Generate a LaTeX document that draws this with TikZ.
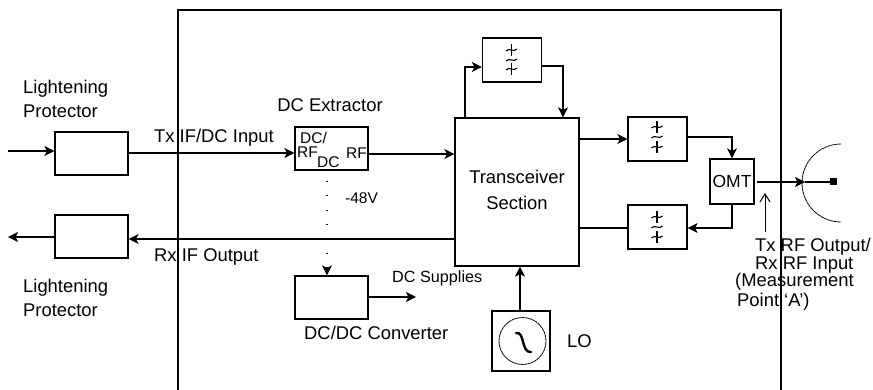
\documentclass[tikz,border=0pt]{standalone}
\usepackage{fontspec}
\setmainfont{Liberation Sans}
\usetikzlibrary{arrows.meta}

\tikzset{
  filtersign/.pic={
    \draw[line width=1.1pt] (-5.5,1) .. controls (-2,-3) and (2,3) .. (5.5,-1);
  },
  filterslash/.pic={
    \draw[line width=1.1pt] (-5.5,1) .. controls (-2,-3) and (2,3) .. (5.5,-1);
    \draw[line width=1.1pt] (0,-6) -- (0,6);
  }
}

\begin{document}
\begin{tikzpicture}[x=1pt,y=-1pt,
      font=\fontsize{18.4}{20}\selectfont,
      block/.style={draw,line width=1.2pt,rectangle,inner sep=0pt,minimum width=73pt,minimum height=43pt},
      filterbox/.style={block,minimum width=59pt,minimum height=44pt},
      wire/.style={line width=1.2pt},
      feed/.style={line width=1.2pt,-{Stealth[length=10pt,width=10pt,inset=2.5pt]}},
      small/.style={font=\fontsize{15.5}{18}\selectfont,inner sep=0pt},
      tag/.style={inner sep=0pt,anchor=west}]
      \useasboundingbox (0,0) rectangle (873,390);

      % outer frame, open at the bottom
      \draw[line width=1.2pt] (178,390) -- (178,10) -- (781,10) -- (781,390);

      % blocks
      \node[block] (prot-tx) at (91.5,153.5) {};
      \node[block] (prot-rx) at (91.5,236.5) {};
      \node[block] (extract) at (331.5,148.5) {};
      \node[block] (dcdc) at (331.5,297.5) {};
      \node[block,minimum width=124pt,minimum height=148pt] (trx) at (517,192) {};
      \node[filterbox] (filt-top) at (512,60) {};
      \node[filterbox] (filt-tx) at (657.5,139) {};
      \node[filterbox] (filt-rx) at (657.5,227) {};
      \node[block,minimum width=44pt,minimum height=45pt,font=\fontsize{17.5}{20}\selectfont] (omt) at (732,181.5) {OMT};
      \node[block,minimum width=58pt,minimum height=60pt] (lo) at (521,341) {};
      \node[draw,dash pattern=on 3pt off 0.5pt,line width=0.8pt,circle,inner sep=0pt,minimum size=47pt] (lo-osc) at (522.5,341) {};

      % filter marks
      \pic at (511.5,50) {filterslash};
      \pic at (511.5,60) {filtersign};
      \pic at (511.5,69) {filterslash};
      \pic at (657,127) {filterslash};
      \pic at (657,137) {filtersign};
      \pic at (657,147) {filterslash};
      \pic at (657,217) {filterslash};
      \pic at (657,227) {filtersign};
      \pic at (657,237) {filterslash};

      % free ends and bends
      \coordinate (tx-in) at (8,151);
      \coordinate (rx-out) at (8,237);
      \coordinate (dc-out) at (416,297);
      \coordinate (dots-top) at (327,181);
      \coordinate (omt-feed) at (757,182);
      \coordinate (horn) at (805,182);
      \coordinate (horn-back) at (833,182);
      \coordinate (meas-a) at (765,232);
      \coordinate (meas-b) at (765,193);

      % connectors
      \draw[feed] (tx-in) -- (tx-in -| prot-tx.west);
      \draw[feed] (prot-tx.east |- 0,153) -- (extract.west |- 0,153);
      \draw[feed] (extract.east |- 0,154) -- (trx.west |- 0,154);
      \draw[feed] (trx.west |- 0,239) -- (prot-rx.east |- 0,239);
      \draw[feed] (prot-rx.west |- rx-out) -- (rx-out);
      \draw[feed] (trx.north -| 465,0) |- (filt-top.west |- 0,67);
      \draw[feed] (filt-top.east |- 0,66) -| (trx.north -| 563,0);
      \draw[feed] (trx.east |- 0,139) -- (filt-tx.west |- 0,139);
      \draw[feed] (filt-tx.east |- 0,137) -| (omt.north);
      \draw[feed] (omt.south) |- (filt-rx.east |- 0,228);
      \draw[wire] (filt-rx.west |- 0,228) -- (trx.east |- 0,228);
      \draw[feed] (omt-feed) -- (horn);
      \draw[wire] (horn) -- (horn-back);
      \fill (horn-back) ++(-3.5,-3.5) rectangle ++(7,7);
      \draw[feed] (lo.north -| 520,0) -- (trx.south -| 520,0);
      \draw[feed] (extract.east |- dc-out) -- (dc-out);
      \draw[-{Straight Barb[length=8pt,width=10pt]},line width=1pt] (meas-a) -- (meas-b);
      \draw[feed,dash pattern=on 1pt off 13.4pt] (dots-top) -- (dcdc.north -| dots-top);
      \draw[line width=0.8pt,dash pattern=on 3pt off 0.5pt] (841,144) arc (-90:-270:39);
      \draw[line width=2.4pt,line cap=round] (516,333) .. controls (525,331) and (521,353) .. (531,352);

      % labels
      \node[tag] at (23,89) {Lightening};
      \node[tag] at (23,111) {Protector};
      \node[tag] at (23,288) {Lightening};
      \node[tag] at (23,310) {Protector};
      \node[tag] at (154,138) {Tx IF/DC Input};
      \node[tag] at (154,257) {Rx IF Output};
      \node[inner sep=0pt] at (330,105) {DC Extractor};
      \node[small,anchor=west] at (300,138) {DC/};
      \node[small,anchor=west] at (297,152) {RF};
      \node[small,anchor=west] at (317,162) {DC};
      \node[small,anchor=west] at (346,153) {RF};
      \node[small,anchor=west] at (345,198) {-48V};
      \node[small,anchor=west,font=\fontsize{16.2}{18}\selectfont] at (392,278) {DC Supplies};
      \node[tag] at (304,333) {DC/DC Converter};
      \node[inner sep=0pt] at (517,177) {Transceiver};
      \node[inner sep=0pt] at (517,203) {Section};
      \node[tag] at (567,341) {LO};
      \node[tag] at (755,247) {Tx RF Output/};
      \node[tag] at (755,265) {Rx RF Input};
      \node[tag] at (735,282) {(Measurement};
      \node[tag] at (737,302) {Point ‘A’)};
    \end{tikzpicture}
\end{document}
